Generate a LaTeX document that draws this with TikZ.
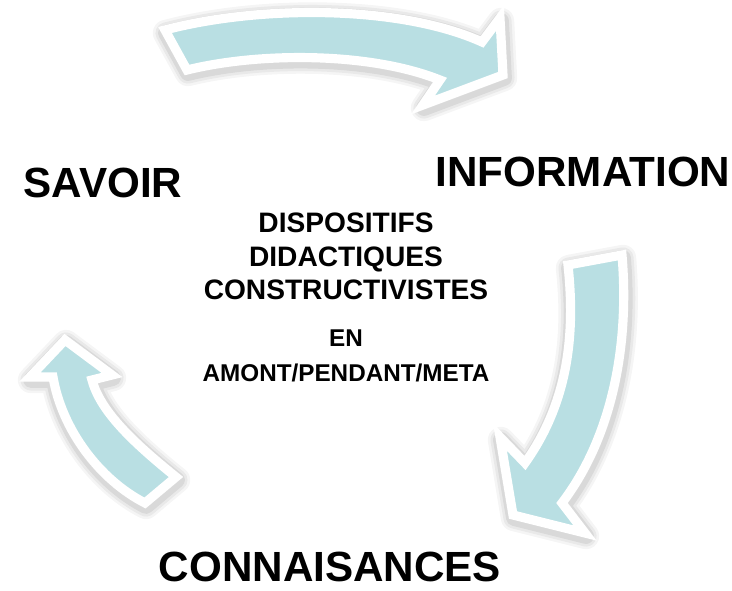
\documentclass[tikz,border=0pt]{standalone}
\usepackage{fontspec}
\setmainfont{Liberation Sans}
\usepackage{tikz}
\usepackage{xcolor}
\definecolor{cyclec}{HTML}{B9DFE3}

% outlines of the three curved arrows
\def\arrowtop{(165,30) .. controls (260,5) and (400,5) .. (482,42)
    -- (500,18) -- (503,75) -- (423,105) -- (440,80)
    .. controls (370,52) and (260,52) .. (187,70) -- cycle}
\def\arrowright{(568,265) -- (622,255)
    .. controls (630,350) and (610,440) .. (562,503)
    -- (585,533) -- (513,515) -- (500,437) -- (525,463)
    .. controls (570,400) and (575,330) .. (568,265) -- cycle}
\def\arrowleft{(176,477) .. controls (130,440) and (100,410) .. (92,380)
    -- (112,375) -- (65,340) -- (30,377) -- (53,377)
    .. controls (62,430) and (100,480) .. (145,503) -- cycle}

\begin{document}
\begin{tikzpicture}[
    x=0.01cm, y=-0.01cm,
    bigarrow/.style={fill=cyclec, draw=white, line width=2.6pt, line join=miter},
    halo/.style={draw=black, line join=round, shift={(1,3)}},
    stage/.style={font=\fontsize{12}{14}\selectfont\bfseries, anchor=base, inner sep=0pt},
    midtxt/.style={font=\fontsize{8}{9.6}\selectfont\bfseries, anchor=base, inner sep=0pt},
    smalltxt/.style={font=\fontsize{6.9}{8.3}\selectfont\bfseries, anchor=base, inner sep=0pt}]

  \useasboundingbox (0,0) rectangle (732,591);

  % the three stages of the cycle
  \node[stage] (savoir) at (103,198) {SAVOIR};
  \node[stage] (info)   at (583,187) {INFORMATION};
  \node[stage] (conn)   at (330,582) {CONNAISANCES};

  % centre text
  \node[midtxt]   (dispo)   at (346,233) {DISPOSITIFS};
  \node[midtxt]   (didac)   at (346,267) {DIDACTIQUES};
  \node[midtxt]   (constr)  at (346,300) {CONSTRUCTIVISTES};
  \node[smalltxt] (en)      at (346,347) {EN};
  \node[smalltxt] (moments) at (346,382) {AMONT/PENDANT/META};

  % soft shadow: a few wide faint strokes under each arrow
  \foreach \w/\o in {7.5pt/0.04, 6pt/0.05, 4.5pt/0.07} {
    \draw[halo, line width=\w, opacity=\o] \arrowtop;
    \draw[halo, line width=\w, opacity=\o] \arrowright;
    \draw[halo, line width=\w, opacity=\o] \arrowleft;
  }

  % savoir -> information, information -> connaissances, connaissances -> savoir
  \path[bigarrow] \arrowtop;
  \path[bigarrow] \arrowright;
  \path[bigarrow] \arrowleft;
\end{tikzpicture}
\end{document}
